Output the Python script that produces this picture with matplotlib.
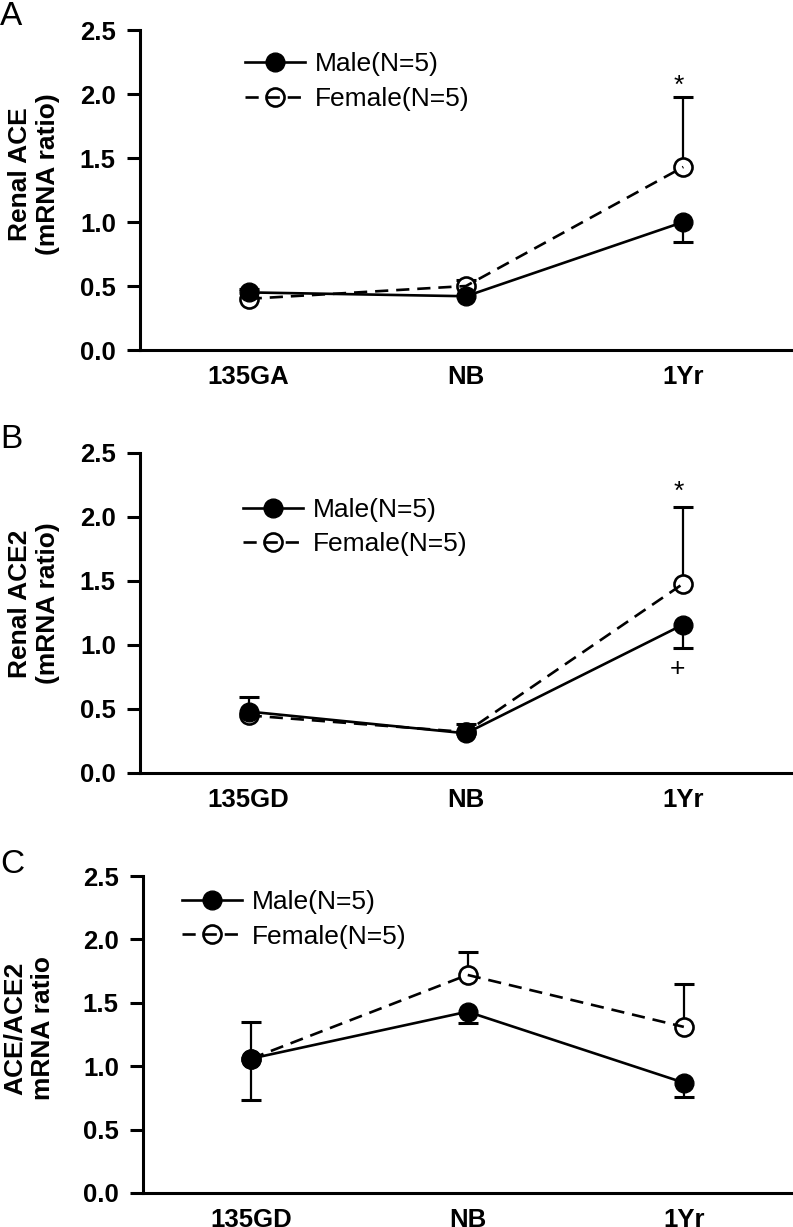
import matplotlib
matplotlib.use('Agg')
import matplotlib.pyplot as plt
import numpy as np

plt.rcParams['font.family'] = ['Liberation Sans', 'DejaVu Sans']

# ---------------- data ----------------
cats_A = ['135GA', 'NB', '1Yr']
cats_BC = ['135GD', 'NB', '1Yr']
legend_labels = ['Male(N=5)', 'Female(N=5)']

# Panel A: Renal ACE
male_A = [0.45, 0.42, 1.00]
male_A_up = [0.03, 0.0, 0.0]
male_A_dn = [0.0, 0.0, 0.16]
female_A = [0.40, 0.50, 1.43]
female_A_up = [0.0, 0.05, 0.55]
female_A_dn = [0.0, 0.0, 0.0]

# Panel B: Renal ACE2
male_B = [0.48, 0.31, 1.16]
male_B_up = [0.11, 0.0, 0.0]
male_B_dn = [0.0, 0.0, 0.18]
female_B = [0.45, 0.32, 1.48]
female_B_up = [0.0, 0.06, 0.60]
female_B_dn = [0.0, 0.0, 0.0]

# Panel C: ACE/ACE2 ratio
male_C = [1.06, 1.43, 0.87]
male_C_up = [0.0, 0.0, 0.0]
male_C_dn = [0.33, 0.09, 0.11]
female_C = [1.06, 1.72, 1.31]
female_C_up = [0.29, 0.18, 0.34]
female_C_dn = [0.0, 0.0, 0.0]

yticks = [0.0, 0.5, 1.0, 1.5, 2.0, 2.5]

# ---------------- figure ----------------
W, H = 793, 1227
fig = plt.figure(figsize=(W / 100, H / 100), dpi=100)


def px_axes(left, top, right, bottom):
    return fig.add_axes([left / W, 1 - bottom / H, (right - left) / W, (bottom - top) / H])


def errbars(ax, x, y, up, dn):
    y = np.asarray(y, float)
    up = np.asarray(up, float)
    dn = np.asarray(dn, float)
    m = up > 0
    if m.any():
        ax.errorbar(x[m], y[m], yerr=[np.zeros(m.sum()), up[m]], fmt='none',
                    ecolor='k', elinewidth=1.6, capsize=0, zorder=1.5)
        ax.plot(x[m], y[m] + up[m], ls='none', marker='_', ms=15, mew=2.2,
                color='k', zorder=1.5)
    m = dn > 0
    if m.any():
        ax.errorbar(x[m], y[m], yerr=[dn[m], np.zeros(m.sum())], fmt='none',
                    ecolor='k', elinewidth=1.6, capsize=0, zorder=1.5)
        ax.plot(x[m], y[m] - dn[m], ls='none', marker='_', ms=15, mew=2.2,
                color='k', zorder=1.5)


def panel(ax, cats, male, m_up, m_dn, female, f_up, f_dn, ylabel,
          label_xy, legend_xy):
    x = np.arange(len(cats))
    errbars(ax, x, male, m_up, m_dn)
    errbars(ax, x, female, f_up, f_dn)
    f_mark, = ax.plot(x, female, ls='none', marker='o', ms=13, mfc='white',
                      mec='k', mew=1.9, zorder=3)
    f_line, = ax.plot(x, female, ls=(0, (5, 3)), color='k', lw=1.9, zorder=4)
    m_line, = ax.plot(x, male, ls='-', marker='o', ms=13.5, color='k', lw=1.9,
                      zorder=5)

    ax.set_xlim(-0.5, 2.5)
    ax.set_ylim(0, 2.5)
    ax.set_xticks(x)
    ax.set_xticklabels(cats, fontsize=18.5, fontweight='bold')
    ax.set_yticks(yticks)
    ax.set_yticklabels([f'{v:.1f}' for v in yticks], fontsize=18.5,
                       fontweight='bold')
    for s in ['top', 'right']:
        ax.spines[s].set_visible(False)
    for s in ['left', 'bottom']:
        ax.spines[s].set_linewidth(2.2)
    ax.tick_params(axis='y', direction='out', length=9.4, width=2.2, pad=8)
    ax.tick_params(axis='x', length=0, pad=11)
    ax.set_ylabel(ylabel, fontsize=19, fontweight='bold', linespacing=1.22)
    ax.yaxis.set_label_coords(*label_xy)

    ax.legend([m_line, (f_mark, f_line)], legend_labels, loc='upper left',
              bbox_to_anchor=legend_xy, frameon=False, fontsize=19,
              handlelength=2.27, handletextpad=0.38, labelspacing=0.4,
              borderpad=0, borderaxespad=0, numpoints=1)
    return x


axA = px_axes(140, 30, 792, 350)
axB = px_axes(140, 453, 792, 773)
axC = px_axes(143, 876, 792, 1193)

xA = panel(axA, cats_A, male_A, male_A_up, male_A_dn, female_A, female_A_up,
           female_A_dn, 'Renal ACE\n(mRNA ratio)', (-0.123, 0.55),
           (0.161, 0.93))
xB = panel(axB, cats_BC, male_B, male_B_up, male_B_dn, female_B, female_B_up,
           female_B_dn, 'Renal ACE2\n(mRNA ratio)', (-0.123, 0.53),
           (0.158, 0.86))
xC = panel(axC, cats_BC, male_C, male_C_up, male_C_dn, female_C, female_C_up,
           female_C_dn, 'ACE/ACE2\nmRNA ratio', (-0.135, 0.52),
           (0.06, 0.956))

# significance marks
axA.annotate('*', xy=(xA[2], female_A[2] + female_A_up[2]), xytext=(-5, 4),
             textcoords='offset pixels', ha='center', va='baseline',
             fontsize=19)
axB.annotate('*', xy=(xB[2], female_B[2] + female_B_up[2]), xytext=(-5, 8),
             textcoords='offset pixels', ha='center', va='baseline',
             fontsize=19)
axB.annotate('+', xy=(xB[2], male_B[2] - male_B_dn[2]), xytext=(-6, -9),
             textcoords='offset pixels', ha='center', va='top', fontsize=19)

# panel letters
fig.text(0.0, 0.999, 'A', fontsize=24, va='top', ha='left')
fig.text(0.0, 1 - 424 / H, 'B', fontsize=24, va='top', ha='left')
fig.text(0.0, 1 - 849 / H, 'C', fontsize=24, va='top', ha='left')

fig.savefig('out.png', dpi=100)
